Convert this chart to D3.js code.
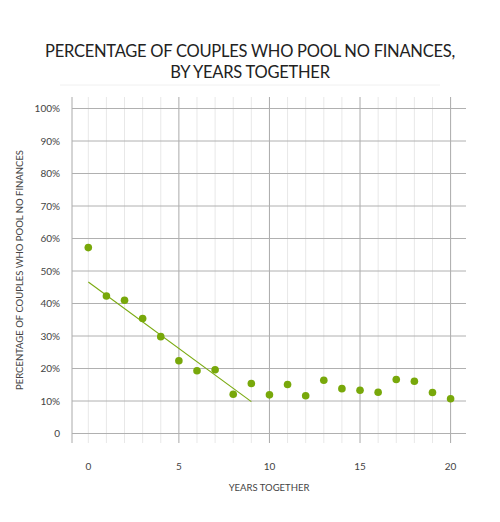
<!DOCTYPE html>
<html><head><meta charset="utf-8">
<script src="https://cdn.jsdelivr.net/npm/d3@7"></script>
<style>body{margin:0;background:#fff;} svg{display:block;}</style>
</head><body>
<svg id="c" width="500" height="522"></svg>
<script>
const years = [0,1,2,3,4,5,6,7,8,9,10,11,12,13,14,15,16,17,18,19,20];
const pctNoPool = [57.2,42.3,41.0,35.4,29.8,22.4,19.3,19.6,12.1,15.4,11.9,15.1,11.6,16.4,13.8,13.3,12.7,16.6,16.1,12.6,10.7];
const trendYears = [0, 9];
const trendValues = [46.6, 9.8];
const yTicks = [0,10,20,30,40,50,60,70,80,90,100];
const xTicks = [0,5,10,15,20];
const titleLines = ["PERCENTAGE OF COUPLES WHO POOL NO FINANCES,", "BY YEARS TOGETHER"];

(function(){
const svg = d3.select("#c");
const font = "Lato, 'Open Sans', sans-serif";
const x = d3.scaleLinear().domain([-0.9, 20.85]).range([72, 466]);
const y = d3.scaleLinear().domain([0, 100]).range([433.5, 108.5]);
const gTop = 97, gBottom = 443;

const title = svg.append("text").attr("text-anchor","middle").attr("font-family",font)
  .attr("font-size",16.5).attr("letter-spacing","-0.25px").attr("fill","#222");
title.selectAll("tspan").data(titleLines).join("tspan")
  .attr("x",250).attr("y",(d,i)=>57.3 + i*20.2).text(d=>d);
svg.append("line").attr("x1",60).attr("x2",440).attr("y1",85).attr("y2",85)
  .attr("stroke","#f0f0f0").attr("stroke-width",1);

const g = svg.append("g");
g.selectAll("line.minor").data(years.filter(v=>v%5!==0 || v===0)).join("line").attr("class","minor")
  .attr("x1",d=>x(d)).attr("x2",d=>x(d)).attr("y1",gTop).attr("y2",gBottom)
  .attr("stroke","#e8e8e8").attr("stroke-width",1);
g.selectAll("line.major").data(xTicks.filter(v=>v!==0)).join("line").attr("class","major")
  .attr("x1",d=>x(d)).attr("x2",d=>x(d)).attr("y1",gTop).attr("y2",gBottom)
  .attr("stroke","#aaa").attr("stroke-width",1);
g.append("line").attr("x1",72).attr("x2",72).attr("y1",gTop).attr("y2",gBottom)
  .attr("stroke","#aaa");
g.selectAll("line.h").data(yTicks).join("line").attr("class","h")
  .attr("x1",72).attr("x2",466).attr("y1",d=>y(d)).attr("y2",d=>y(d))
  .attr("stroke","#b0b0b0").attr("stroke-width",1);

svg.append("g").selectAll("text").data(yTicks).join("text")
  .attr("x",60).attr("y",d=>y(d)+3.5).attr("text-anchor","end")
  .attr("font-family",font).attr("font-size",10).attr("fill","#444")
  .text(d=>d===0?"0":d+"%");
svg.append("g").selectAll("text").data(xTicks).join("text")
  .attr("x",d=>x(d)).attr("y",470).attr("text-anchor","middle")
  .attr("font-family",font).attr("font-size",10).attr("fill","#444").text(d=>d);

svg.append("text").attr("x",269).attr("y",491).attr("text-anchor","middle")
  .attr("font-family",font).attr("font-size",9.5).attr("fill","#444").text("YEARS TOGETHER");
svg.append("text").attr("transform","translate(23,270) rotate(-90)").attr("text-anchor","middle")
  .attr("font-family",font).attr("font-size",9.5).attr("fill","#444").text("PERCENTAGE OF COUPLES WHO POOL NO FINANCES");

svg.append("path").datum(trendYears.map((d,i)=>[d,trendValues[i]]))
  .attr("d", d3.line().x(d=>x(d[0])).y(d=>y(d[1])))
  .attr("stroke","#7aaa10").attr("stroke-width",1.1).attr("fill","none");
svg.append("g").selectAll("circle").data(years).join("circle")
  .attr("cx",d=>x(d)).attr("cy",(d,i)=>y(pctNoPool[i])).attr("r",3.8)
  .attr("fill","#78a80a");
})();
</script>
</body></html>
